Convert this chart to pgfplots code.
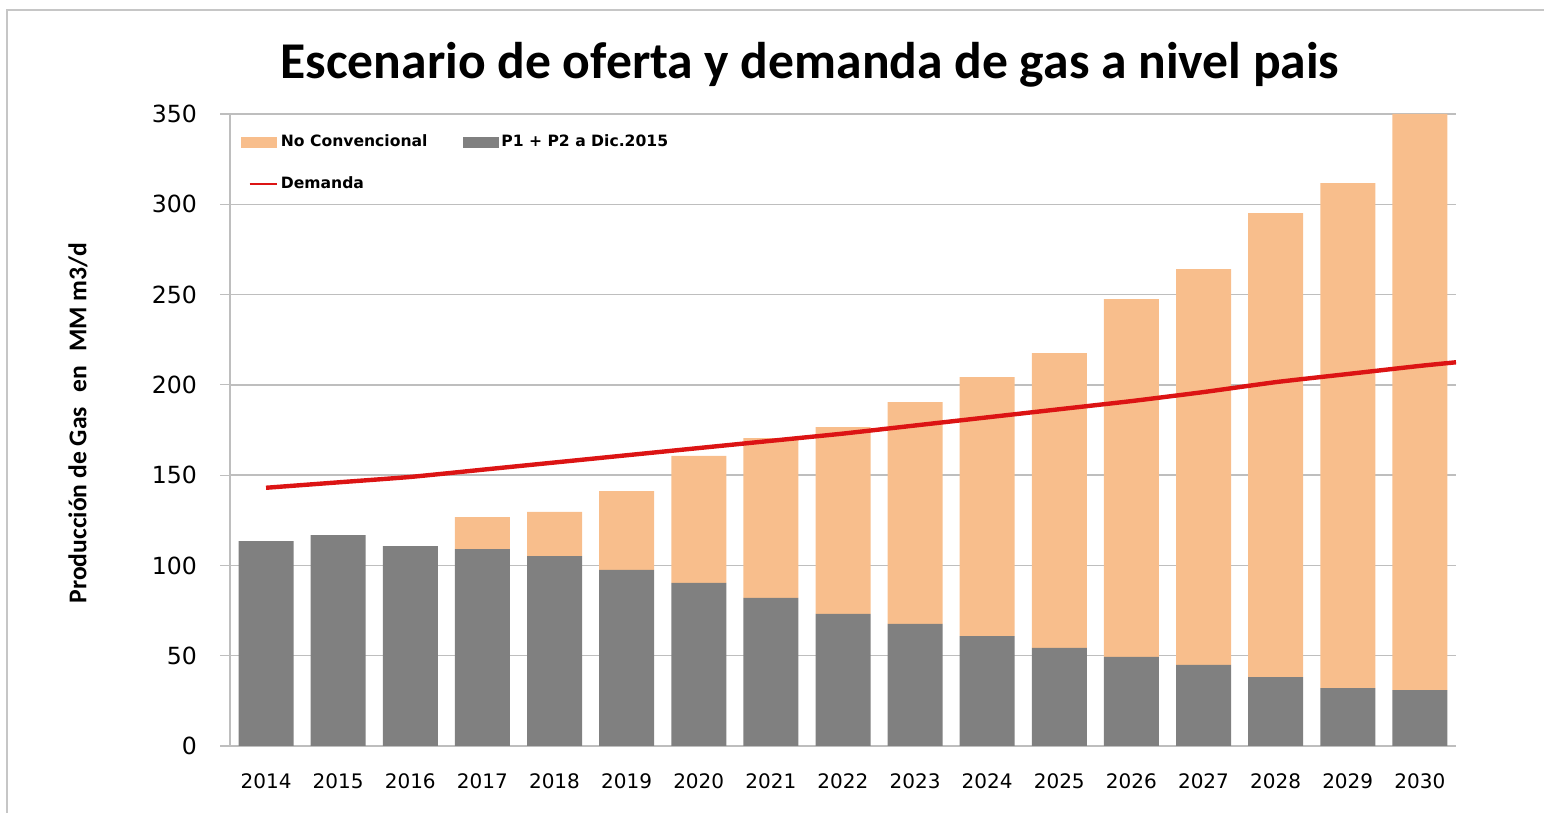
\documentclass[border=0pt]{standalone}
\usepackage{pgfplots}
\pgfplotsset{compat=1.18}
\usepackage{fontspec}
\setmainfont{Carlito}
\newfontfamily\tickfont{DejaVu Sans}
\usepackage{xcolor}
\definecolor{noconv}{RGB}{248,190,140}
\definecolor{pgris}{RGB}{128,128,128}
\definecolor{dem}{RGB}{220,20,20}
\definecolor{gridc}{RGB}{190,190,190}

% years, P1+P2, no convencional (stacked on top)
\pgfplotstableread{
year p12  nc
2014 113.5 0
2015 116.8 0
2016 110.7 0
2017 109.0 17.8
2018 105.2 24.4
2019 97.5  43.7
2020 90.3  70.3
2021 82.0  88.5
2022 73.1  103.5
2023 67.6  122.9
2024 60.9  143.4
2025 54.3  163.3
2026 49.3  198.2
2027 44.9  219.2
2028 38.2  256.9
2029 32.1  279.6
2030 31.0  319.0
}\gasdata

\pgfplotstableread{
year dem
2014   143.0
2015   146.0
2016   149.0
2017   153.0
2018   157.0
2019   161.0
2020   165.0
2021   169.0
2022   173.0
2023   177.5
2024   182.0
2025   186.5
2026   191.0
2027   196.0
2028   201.5
2029   206.0
2030   210.5
2030.5 212.5
}\demdata

\begin{document}
\begin{tikzpicture}
\path[use as bounding box] (0,0) rectangle (772pt,406.5pt);
\draw[gray!45, line width=1.2pt] (3.5pt,0) -- (3.5pt,401.5pt) -- (772pt,401.5pt);
\node[font=\bfseries\fontsize{25.8}{28}\selectfont] at (405pt,374pt)
  {Escenario de oferta y demanda de gas a nivel pais};

\begin{axis}[
    at={(115pt,33.5pt)}, anchor=south west,
    scale only axis,
    width=613pt, height=316pt,
    xmin=2013.5, xmax=2030.5,
    ymin=0, ymax=350,
    axis x line=bottom, axis y line=left,
    axis line style={-, gridc, line width=0.8pt},
    xtick={2014,...,2030},
    xticklabel style={font=\tickfont\fontsize{10}{12}\selectfont, yshift=-5.5pt,
        /pgf/number format/1000 sep={}},
    x tick label style={/pgf/number format/assume math mode=true},
    major x tick style={draw=none},
    extra x ticks={2013.5,2014.5,...,2030.5},
    extra x tick labels={},
    extra x tick style={tick align=outside, major tick length=5pt,
        tick style={gridc, line width=0.6pt}},
    ytick={0,50,...,350},
    yticklabel style={font=\tickfont\fontsize{11.8}{12}\selectfont, xshift=-8pt},
    y tick label style={/pgf/number format/assume math mode=true},
    tick align=outside,
    major tick length=5pt,
    tick style={gridc, line width=0.6pt},
    ymajorgrids,
    grid style={gridc, line width=0.7pt},
    ylabel={Producción de Gas\,\, en\,\, MM m3/d},
    ylabel style={font=\bfseries\fontsize{12.8}{14}\selectfont,
        at={(axis description cs:-0.124,0.511)}, anchor=center, rotate=0},
    ybar stacked,
    bar width=27.5pt,
    legend columns=2,
    legend style={draw=none, fill=none, at={(0.004,0.922)}, anchor=west,
        font=\tickfont\bfseries\fontsize{7.8}{9}\selectfont,
        nodes={inner xsep=1.5pt},
        /tikz/every even column/.append style={column sep=16pt},
        row sep=9.5pt},
    legend cell align=left,
]
\addlegendimage{legend image code/.code={\fill[noconv] (0pt,-2.5pt) rectangle (17.5pt,2.5pt);}}
\addlegendentry{No Convencional}
\addlegendimage{legend image code/.code={\fill[pgris] (0pt,-2.5pt) rectangle (17.5pt,2.5pt);}}
\addlegendentry{P1 + P2 a Dic.2015}
\addlegendimage{legend image code/.code={\draw[dem, line width=1.2pt, solid] (4pt,0) -- (17.5pt,0);}}
\addlegendentry{Demanda}

\addplot[fill=pgris, draw=none, forget plot] table[x=year, y=p12] {\gasdata};
\addplot[fill=noconv, draw=none, forget plot] table[x=year, y=nc] {\gasdata};
\end{axis}

\begin{axis}[
    at={(115pt,33.5pt)}, anchor=south west,
    scale only axis,
    width=613pt, height=316pt,
    xmin=2013.5, xmax=2030.5,
    ymin=0, ymax=350,
    hide axis,
]
\addplot[dem, line width=2.2pt, smooth, tension=0.3] table[x=year, y=dem] {\demdata};
\end{axis}
\end{tikzpicture}
\end{document}
